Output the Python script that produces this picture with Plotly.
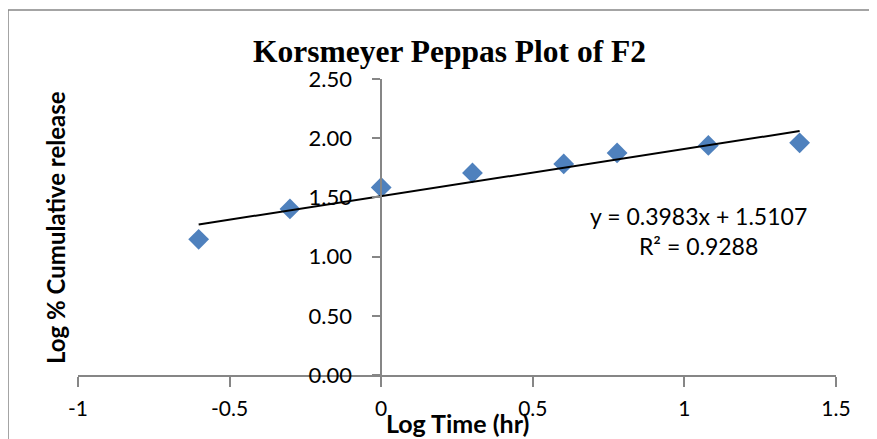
import plotly.graph_objects as go

# log time (hr) and log % cumulative release
log_time = [-0.602, -0.301, 0.0, 0.301, 0.602, 0.778, 1.079, 1.380]
log_release = [1.146, 1.403, 1.584, 1.707, 1.783, 1.876, 1.939, 1.961]

slope = 0.3983
intercept = 1.5107
r2 = 0.9288

x_ticks = [-1, -0.5, 0, 0.5, 1, 1.5]
x_labels = ['-1', '-0.5', '0', '0.5', '1', '1.5']
y_ticks = [0.0, 0.5, 1.0, 1.5, 2.0, 2.5]

# page has an 8px body margin, so size the figure to fit the window
OFF = 8
W, H = 877 - OFF, 439 - OFF
L, R, T, B = 70, 41, 71, 64

trend_x = [min(log_time), max(log_time)]
trend_y = [slope * v + intercept for v in trend_x]

fig = go.Figure()
fig.add_trace(go.Scatter(x=log_time, y=log_release, mode='markers',
                         marker=dict(symbol='diamond', size=16, color='#4F81BD'),
                         showlegend=False))
fig.add_trace(go.Scatter(x=trend_x, y=trend_y, mode='lines',
                         line=dict(color='black', width=2), showlegend=False))

axis_grey = '#868686'
fig.update_xaxes(range=[-1, 1.5], tickvals=x_ticks, ticktext=x_labels,
                 showgrid=False, zeroline=False, showline=True, linecolor=axis_grey, linewidth=1.5,
                 ticks='outside', ticklen=10, tickcolor=axis_grey, tickwidth=1.5,
                 ticklabelstandoff=4,
                 tickfont=dict(family='Lato, Liberation Sans', size=21, color='black'))
# y axis crosses at x = 0
fig.update_yaxes(range=[0, 2.5], tickvals=y_ticks, tickformat='.2f',
                 anchor='free', position=(0 - (-1)) / 2.5,
                 showgrid=False, zeroline=False, showline=True, linecolor=axis_grey, linewidth=1.5,
                 ticks='outside', ticklen=8, tickcolor=axis_grey, tickwidth=1.5,
                 ticklabelstandoff=16,
                 tickfont=dict(family='Lato, Liberation Sans', size=22, color='black'))

pw, ph = W - L - R, H - T - B
def px(x): return (x - OFF - L) / pw
def py(y): return (H - B - (y - OFF)) / ph

# chart border
fig.add_shape(type='rect', xref='paper', yref='paper', x0=px(8), x1=px(876), y0=py(460), y1=py(10),
              line=dict(color=axis_grey, width=1.5))

fig.add_annotation(text='<b>Korsmeyer Peppas Plot of F2</b>', xref='paper', yref='paper',
                   x=px(449), y=py(51), xanchor='center', yanchor='middle', showarrow=False,
                   font=dict(family='Liberation Serif, Times New Roman', size=31.5, color='black'))
fig.add_annotation(text='<b>Log % Cumulative release</b>', xref='paper', yref='paper',
                   x=px(55), y=py(228), xanchor='center', yanchor='middle', textangle=-90, showarrow=False,
                   font=dict(family='Lato, Liberation Sans', size=24, color='black'))
fig.add_annotation(text='<b>Log Time (hr)</b>', xref='paper', yref='paper',
                   x=px(457), y=py(423), xanchor='center', yanchor='middle', showarrow=False,
                   font=dict(family='Lato, Liberation Sans', size=25, color='black'))
fig.add_annotation(text=f'y = {slope}x + {intercept}<br>R² = {r2}', xref='paper', yref='paper',
                   x=px(698), y=py(231), xanchor='center', yanchor='middle', showarrow=False, align='center',
                   font=dict(family='Lato, Liberation Sans', size=23, color='black'))

fig.update_layout(width=W, height=H, margin=dict(l=L, r=R, t=T, b=B),
                  plot_bgcolor='white', paper_bgcolor='white')

fig.write_html('out.html')
